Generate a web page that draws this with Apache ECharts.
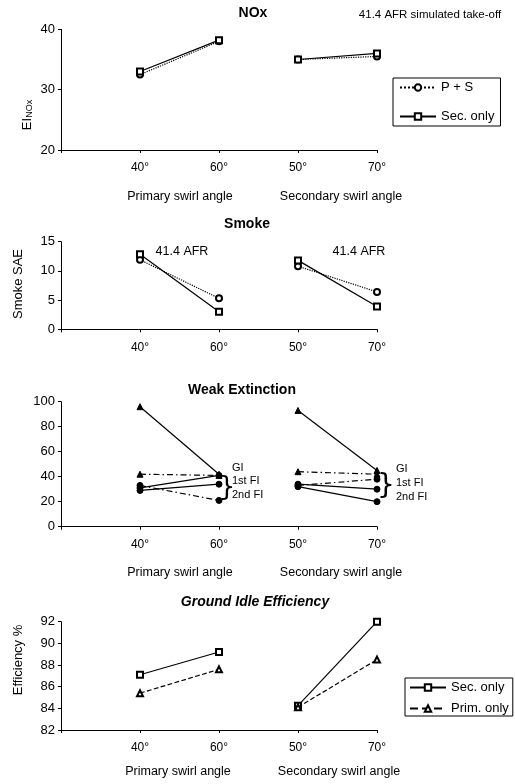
<!DOCTYPE html>
<html><head><meta charset="utf-8">
<script src="https://cdn.jsdelivr.net/npm/echarts@6/dist/echarts.min.js"></script>
<style>html,body{margin:0;padding:0;background:#fff}#c{width:515px;height:784px}</style>
</head><body><div id="c"></div>
<script>
// ---- data ----
const categories = ['', '40°', '60°', '50°', '70°'];
const groupLabels = ['Primary swirl angle', 'Secondary swirl angle'];
// values ordered: 40°, 60° (primary), 50°, 70° (secondary)
const noxPS = [32.5, 38.0, 35.0, 35.5];
const noxSec = [33.0, 38.2, 35.0, 36.0];
const smokePS = [11.9, 5.3, 10.8, 6.4];
const smokeSec = [12.85, 3.0, 11.8, 3.9];
const weakA = [96, 42, 93, 45];
const weakB = [42, 41, 44, 42];
const weakC = [31, 41, 34, 30];
const weakD = [29, 34, 32, 20];
const weakE = [33, 21, 33, 38];
const effSec = [87.1, 89.2, 84.25, 92.0];
const effPrim = [85.4, 87.6, 84.1, 88.5];
const noxAxis = [20, 40, 10];
const smokeAxis = [0, 15, 5];
const weakAxis = [0, 100, 20];
const effAxis = [82, 92, 2];
const weakLabels = ['GI', '1st FI', '2nd FI'];

const FONT = 'Liberation Sans, Arial, sans-serif';
const BLK = '#000';

function seg(vals, part) {
  return part === 0 ? [null, vals[0], vals[1], null, null] : [null, null, null, vals[2], vals[3]];
}
function pair(name, vals, gi, symbol, lineType, size) {
  const out = [];
  for (let p = 0; p < 2; p++) {
    out.push({
      type: 'line', name: name, xAxisIndex: gi, yAxisIndex: gi,
      data: seg(vals, p), connectNulls: false, clip: false,
      symbol: symbol, symbolSize: size || 6,
      lineStyle: { color: BLK, width: 1.2, type: lineType },
      itemStyle: { color: BLK, borderColor: BLK, borderWidth: 1 },
      emphasis: { disabled: true }, animation: false
    });
  }
  return out;
}
const dashDot = [6, 3, 1.5, 3];

const grids = [
  { left: 61, width: 316, top: 29.3, height: 120.7 },
  { left: 61, width: 316, top: 241.7, height: 87.6 },
  { left: 61, width: 316, top: 401.7, height: 125 },
  { left: 61, width: 316, top: 621.7, height: 108.3 }
];
const yRanges = [noxAxis, smokeAxis, weakAxis, effAxis];

const xAxes = grids.map((g, i) => ({
  type: 'category', gridIndex: i, data: categories, boundaryGap: false,
  axisLine: { lineStyle: { color: BLK, width: 1 } },
  axisTick: { show: true, length: 3, interval: 0, lineStyle: { color: BLK } },
  axisLabel: { interval: 0, color: BLK, fontSize: 12, margin: 12, fontFamily: FONT },
  splitLine: { show: false }
}));
const yAxes = grids.map((g, i) => ({
  type: 'value', gridIndex: i, min: yRanges[i][0], max: yRanges[i][1], interval: yRanges[i][2],
  axisLine: { show: true, lineStyle: { color: BLK, width: 1 } },
  axisTick: { show: true, length: 3, lineStyle: { color: BLK } },
  axisLabel: { color: BLK, fontSize: 13, margin: 6, fontFamily: FONT },
  splitLine: { show: false }
}));

const series = [].concat(
  pair('P + S', noxPS, 0, 'emptyCircle', 'dotted'),
  pair('Sec. only', noxSec, 0, 'emptyRect', 'solid'),
  pair('P + S ', smokePS, 1, 'emptyCircle', 'dotted'),
  pair('Sec. only ', smokeSec, 1, 'emptyRect', 'solid'),
  pair('wA', weakA, 2, 'triangle', 'solid'),
  pair('wB', weakB, 2, 'triangle', dashDot),
  pair('wC', weakC, 2, 'circle', 'solid'),
  pair('wD', weakD, 2, 'circle', 'solid'),
  pair('wE', weakE, 2, 'circle', dashDot),
  pair('Sec.  only', effSec, 3, 'emptyRect', 'solid'),
  pair('Prim. only', effPrim, 3, 'emptyTriangle', 'dashed')
);

function txt(t, x, y, opts) {
  return Object.assign({
    type: 'text', x: x, y: y, silent: true,
    style: Object.assign({ text: t, fill: BLK, font: '12px ' + FONT, align: 'center', verticalAlign: 'middle' }, (opts && opts.style) || {})
  }, (opts && opts.el) || {});
}
const graphics = [
  txt('41.4 AFR simulated take-off', 430, 15, { style: { font: '11.5px ' + FONT } }),
  { type: 'text', x: 26, y: 115, rotation: Math.PI / 2, silent: true,
    style: { text: '{a|EI}{b|NOx}', align: 'center', verticalAlign: 'middle',
      rich: { a: { fontSize: 13, fontFamily: FONT, fill: BLK, lineHeight: 16, verticalAlign: 'bottom' },
              b: { fontSize: 9, fontFamily: FONT, fill: BLK, lineHeight: 16, verticalAlign: 'bottom' } } } },
  txt('Smoke SAE', 18, 284, { style: { font: '13px ' + FONT }, el: { rotation: Math.PI / 2 } }),
  txt('Efficiency %', 18, 660, { style: { font: '13px ' + FONT }, el: { rotation: Math.PI / 2 } }),
  txt(groupLabels[0], 180, 197, { style: { font: '12.5px ' + FONT } }),
  txt(groupLabels[1], 341, 197, { style: { font: '12.5px ' + FONT } }),
  txt(groupLabels[0], 180, 573, { style: { font: '12.5px ' + FONT } }),
  txt(groupLabels[1], 341, 573, { style: { font: '12.5px ' + FONT } }),
  txt(groupLabels[0], 178, 772, { style: { font: '12.5px ' + FONT } }),
  txt(groupLabels[1], 339, 772, { style: { font: '12.5px ' + FONT } }),
  txt('41.4 AFR', 182, 252, { style: { font: '12.5px ' + FONT } }),
  txt('41.4 AFR', 359, 252, { style: { font: '12.5px ' + FONT } }),
  txt(weakLabels[0], 232, 468, { style: { font: '11px ' + FONT, align: 'left' } }),
  txt(weakLabels[1], 232, 481, { style: { font: '11px ' + FONT, align: 'left' } }),
  txt(weakLabels[2], 232, 495, { style: { font: '11px ' + FONT, align: 'left' } }),
  txt('}', 227, 488, { style: { font: '26px DejaVu Sans', align: 'center' } }),
  txt(weakLabels[0], 396, 469, { style: { font: '11px ' + FONT, align: 'left' } }),
  txt(weakLabels[1], 396, 483, { style: { font: '11px ' + FONT, align: 'left' } }),
  txt(weakLabels[2], 396, 497, { style: { font: '11px ' + FONT, align: 'left' } }),
  txt('}', 386, 487, { style: { font: '28px DejaVu Sans', align: 'center' } })
];

const titleStyle = { color: BLK, fontWeight: 'bold', fontSize: 14, fontFamily: FONT };
const legendFmt = n => n.trim().replace(/\s+/g, ' ');
const option = {
  backgroundColor: '#fff',
  animation: false,
  title: [
    { text: 'NOx', left: 253, top: 6, textAlign: 'center', textStyle: titleStyle, padding: 0 },
    { text: 'Smoke', left: 247, top: 217, textAlign: 'center', textStyle: titleStyle, padding: 0 },
    { text: 'Weak Extinction', left: 242, top: 383, textAlign: 'center', textStyle: titleStyle, padding: 0 },
    { text: 'Ground Idle Efficiency', left: 255, top: 595, textAlign: 'center',
      textStyle: Object.assign({}, titleStyle, { fontStyle: 'italic' }), padding: 0 }
  ],
  legend: [
    { data: ['P + S', 'Sec. only'], left: 393, top: 78, orient: 'vertical', formatter: legendFmt,
      borderColor: BLK, borderWidth: 1, padding: [3, 6, 3, 6], itemGap: 16, itemWidth: 36, itemHeight: 8,
      textStyle: { color: BLK, fontSize: 13, fontFamily: FONT }, selectedMode: false },
    { data: ['Sec.  only', 'Prim. only'], left: 405, top: 678, orient: 'vertical', formatter: legendFmt,
      borderColor: BLK, borderWidth: 1, padding: [3, 4, 1, 4], itemGap: 8, itemWidth: 36, itemHeight: 8,
      textStyle: { color: BLK, fontSize: 13, fontFamily: FONT }, selectedMode: false }
  ],
  grid: grids,
  xAxis: xAxes,
  yAxis: yAxes,
  series: series,
  graphic: graphics
};
const chart = echarts.init(document.getElementById('c'), null, { renderer: 'canvas' });
chart.setOption(option);
</script>
</body></html>
